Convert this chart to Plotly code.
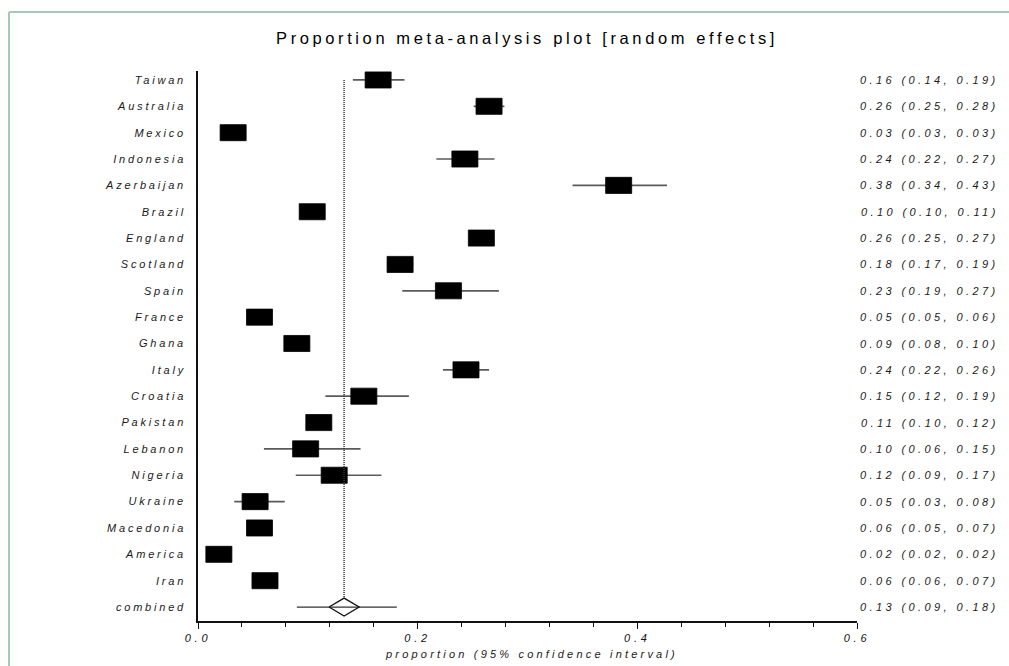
import plotly.graph_objects as go
import numpy as np

countries = ["Taiwan", "Australia", "Mexico", "Indonesia", "Azerbaijan", "Brazil",
             "England", "Scotland", "Spain", "France", "Ghana", "Italy", "Croatia",
             "Pakistan", "Lebanon", "Nigeria", "Ukraine", "Macedonia", "America", "Iran"]
est = [0.164, 0.265, 0.032, 0.243, 0.383, 0.104, 0.258, 0.184, 0.228, 0.056, 0.090,
       0.244, 0.151, 0.110, 0.098, 0.124, 0.052, 0.056, 0.019, 0.061]
lo = [0.141, 0.251, 0.029, 0.217, 0.341, 0.097, 0.247, 0.172, 0.186, 0.050, 0.081,
      0.223, 0.116, 0.099, 0.060, 0.089, 0.033, 0.048, 0.016, 0.056]
hi = [0.188, 0.279, 0.035, 0.270, 0.427, 0.111, 0.269, 0.196, 0.274, 0.062, 0.100,
      0.265, 0.192, 0.121, 0.148, 0.167, 0.079, 0.066, 0.022, 0.067]
labels_right = ["0.16 (0.14, 0.19)", "0.26 (0.25, 0.28)", "0.03 (0.03, 0.03)",
                "0.24 (0.22, 0.27)", "0.38 (0.34, 0.43)", "0.10 (0.10, 0.11)",
                "0.26 (0.25, 0.27)", "0.18 (0.17, 0.19)", "0.23 (0.19, 0.27)",
                "0.05 (0.05, 0.06)", "0.09 (0.08, 0.10)", "0.24 (0.22, 0.26)",
                "0.15 (0.12, 0.19)", "0.11 (0.10, 0.12)", "0.10 (0.06, 0.15)",
                "0.12 (0.09, 0.17)", "0.05 (0.03, 0.08)", "0.06 (0.05, 0.07)",
                "0.02 (0.02, 0.02)", "0.06 (0.06, 0.07)"]
combined_label = "combined"
combined_est = 0.133
combined_lo = 0.090
combined_hi = 0.181
combined_right = "0.13 (0.09, 0.18)"
x_tick_vals = [0.0, 0.2, 0.4, 0.6]
x_tick_text = ["0.0", "0.2", "0.4", "0.6"]

title_text = "Proportion meta-analysis plot [random effects]"
xaxis_title = "proportion (95% confidence interval)"

# style
FONT = "Liberation Sans, Arial, sans-serif"
LS = "letter-spacing:3.4px"
LS_Y = "letter-spacing:2.8px"


def sp(t, ls=LS):
    return f'<span style="{ls}">{t}</span>'


n = len(countries)
rows = list(range(n))
comb_row = n
box_w = 0.0237
box_h = 0.61
dia_w = 0.0137
dia_h = 0.34

fig = go.Figure()

# CI lines
cx, cy = [], []
for i in rows:
    cx += [lo[i], hi[i], None]
    cy += [i, i, None]
fig.add_trace(go.Scatter(x=cx, y=cy, mode="lines",
                         line=dict(color="#5a5a5a", width=1.7),
                         hoverinfo="skip", showlegend=False))

# boxes (filled polygons, drawn above CI lines)
bx, by = [], []
for i in rows:
    x0, x1 = est[i] - box_w / 2, est[i] + box_w / 2
    y0, y1 = i - box_h / 2, i + box_h / 2
    bx += [x0, x1, x1, x0, x0, None]
    by += [y0, y0, y1, y1, y0, None]
fig.add_trace(go.Scatter(x=bx, y=by, mode="lines", fill="toself",
                         fillcolor="#000000", line=dict(color="#000000", width=0.8),
                         hoverinfo="skip", showlegend=False))

# dotted pooled line
fig.add_trace(go.Scatter(x=[combined_est, combined_est], y=[0, comb_row - dia_h],
                         mode="lines", line=dict(color="#333333", width=1.5, dash="1px,1px"),
                         hoverinfo="skip", showlegend=False))

# combined CI
fig.add_trace(go.Scatter(x=[combined_lo, combined_hi], y=[comb_row, comb_row],
                         mode="lines", line=dict(color="#333333", width=1.3),
                         hoverinfo="skip", showlegend=False))
# diamond
c = combined_est
fig.add_trace(go.Scatter(x=[c - dia_w, c, c + dia_w, c, c - dia_w],
                         y=[comb_row, comb_row - dia_h, comb_row, comb_row + dia_h, comb_row],
                         mode="lines", line=dict(color="#111111", width=1.3),
                         hoverinfo="skip", showlegend=False))

W, H = 1009, 666
L, R, T, B = 198, 152, 71, 45
pw, ph = W - L - R, H - T - B

# right-hand labels
annotations = []
for i, t in enumerate(labels_right + [combined_right]):
    annotations.append(dict(x=(1001 - L) / pw, xref="paper", y=i, yref="y", text=sp(t),
                            xanchor="right", yanchor="middle", showarrow=False,
                            font=dict(family=FONT, size=11, color="#1a1a1a", style="italic")))
annotations.append(dict(x=(531 - L) / pw, xref="paper", y=(H - B - 654) / ph, yref="paper",
                        text=sp(xaxis_title, "letter-spacing:3.2px"),
                        xanchor="center", yanchor="middle", showarrow=False,
                        font=dict(family=FONT, size=11, color="#1a1a1a", style="italic")))

# frame: top and left edges only
bl, bt = (9 - L) / pw, (H - B - 12) / ph
border = dict(color="#a8c9b8", width=2)
shapes = [
    dict(type="line", xref="paper", yref="paper", x0=bl, x1=(W + 20 - L) / pw,
         y0=bt, y1=bt, line=border, layer="below"),
    dict(type="line", xref="paper", yref="paper", x0=bl, x1=bl,
         y0=bt, y1=(H - B - (H + 20)) / ph, line=border, layer="below"),
]

fig.update_layout(
    width=W, height=H,
    margin=dict(l=L, r=R, t=T, b=B),
    paper_bgcolor="white", plot_bgcolor="white",
    title=dict(text=sp(title_text, "letter-spacing:3.6px"), x=527 / W, xanchor="center",
               y=1 - 38 / H, yanchor="middle", yref="container",
               font=dict(family=FONT, size=16.5, color="#000000")),
    showlegend=False,
    annotations=annotations,
    shapes=shapes,
    xaxis=dict(range=[0, 0.6], showgrid=False, zeroline=False,
               showline=True, linecolor="#111111", linewidth=1.5,
               ticks="outside", ticklen=6, tickwidth=1.3, tickcolor="#111111",
               tickmode="array", tickvals=x_tick_vals,
               ticktext=[sp(t, "letter-spacing:3.8px") for t in x_tick_text],
               tickfont=dict(family=FONT, size=11, color="#111111", style="italic"),
               minor=dict(tickmode="array", tickvals=list(np.round(np.arange(0, 0.6001, 0.04), 2)),
                          ticks="outside", ticklen=4, tickwidth=1.3, tickcolor="#111111"),
               fixedrange=True),
    yaxis=dict(range=[comb_row + 0.53, -0.34], showgrid=False, zeroline=False,
               showline=True, linecolor="#111111", linewidth=1.5,
               ticks="", tickmode="array", tickvals=rows + [comb_row],
               ticktext=[sp(t, LS_Y) for t in countries + [combined_label]],
               tickfont=dict(family=FONT, size=11, color="#1a1a1a", style="italic"),
               ticklabelstandoff=8, fixedrange=True),
)

fig.write_html("out.html", config={"displayModeBar": False},
               post_script="document.body.style.margin='0';document.body.style.overflow='hidden';")
